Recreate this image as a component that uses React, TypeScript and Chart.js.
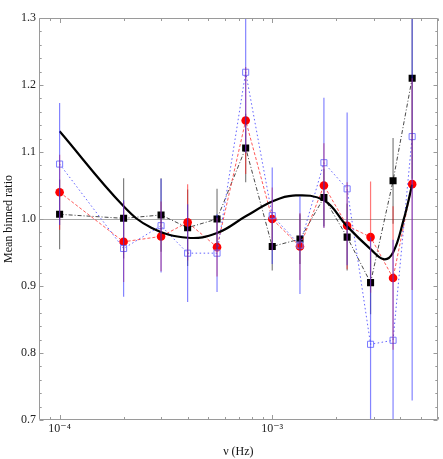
import React, { useEffect, useRef } from 'react';
import { Chart, registerables } from 'chart.js';

Chart.register(...registerables);

// ---- data ----
const freq = [1e-4, 2e-4, 3e-4, 4e-4, 5.5e-4, 7.5e-4, 1e-3, 1.35e-3, 1.75e-3, 2.25e-3, 2.9e-3, 3.7e-3, 4.55e-3];

const blackVals = [1.007, 1.001, 1.006, 0.987, 1.0, 1.106, 0.959, 0.97, 1.032, 0.973, 0.905, 1.057, 1.21];
const blackErrs = [0.052, 0.06, 0.055, 0.057, 0.045, 0.051, 0.036, 0.037, 0.043, 0.05, 0.047, 0.064, 0.15];

const redVals = [1.04, 0.966, 0.974, 0.995, 0.958, 1.147, 1.0, 0.959, 1.05, 0.99, 0.973, 0.912, 1.052];
const redErrs = [0.056, 0.06, 0.052, 0.057, 0.044, 0.08, 0.047, 0.05, 0.063, 0.065, 0.083, 0.107, 0.158];

const blueVals = [1.082, 0.956, 0.99, 0.949, 0.949, 1.219, 1.005, 0.961, 1.084, 1.045, 0.813, 0.819, 1.123];
const blueErrs = [0.091, 0.072, 0.07, 0.073, 0.058, 0.12, 0.072, 0.073, 0.097, 0.114, 0.16, 0.15, 0.394];

const fitFreq = [1e-4, 2e-4, 2.7e-4, 4e-4, 5.5e-4, 7.5e-4, 1e-3, 1.25e-3, 1.75e-3, 2.25e-3, 2.9e-3, 3.34e-3, 3.7e-3, 4.15e-3, 4.55e-3];
const fitVals = [1.131, 1.019, 0.987, 0.972, 0.979, 1.004, 1.026, 1.035, 1.028, 0.989, 0.955, 0.94, 0.95, 0.999, 1.051];

const xTickValues = [9e-5, 1e-4, 2e-4, 3e-4, 4e-4, 5e-4, 6e-4, 7e-4, 8e-4, 9e-4, 1e-3, 2e-3, 3e-3, 4e-3, 5e-3, 6e-3];
const xTickLabels = ['', '10⁻⁴', '', '', '', '', '', '', '', '', '10⁻³', '', '', '', '', ''];

const xMin = 8e-5;
const xMax = 6e-3;
const yMin = 0.7;
const yMax = 1.3;
const yStep = 0.02;

const FONT = "'Liberation Serif', 'DejaVu Serif', serif";

export default function App() {
  const ref = useRef<HTMLCanvasElement>(null);

  useEffect(() => {
    document.body.style.margin = '0';
    const canvas = ref.current;
    if (!canvas) return;

    const pts = (vals: number[]) => freq.map((f, i) => ({ x: f, y: vals[i] }));
    const errPts = (vals: number[], errs: number[]) => {
      const out: any[] = [];
      freq.forEach((f, i) => {
        out.push({ x: f, y: vals[i] - errs[i] }, { x: f, y: vals[i] + errs[i] }, { x: f, y: null });
      });
      return out;
    };

    const framePlugin = {
      id: 'frameTicks',
      afterDraw(chart: any) {
        const { ctx, chartArea: a, scales } = chart;
        const L = Math.round(a.left) + 0.5;
        const R = Math.round(a.right) - 0.5;
        const T = Math.round(a.top) + 0.5;
        const B = Math.round(a.bottom) - 0.5;
        ctx.save();
        ctx.strokeStyle = '#9a9a9a';
        ctx.lineWidth = 1;
        ctx.beginPath();
        ctx.rect(L, T, R - L, B - T);
        ctx.stroke();
        ctx.beginPath();
        scales.x.ticks.forEach((t: any) => {
          const px = Math.round(scales.x.getPixelForValue(t.value)) + 0.5;
          const len = t.label ? 4.5 : 2.5;
          ctx.moveTo(px, B);
          ctx.lineTo(px, B - len);
          ctx.moveTo(px, T);
          ctx.lineTo(px, T + len);
        });
        scales.y.ticks.forEach((t: any) => {
          const py = Math.round(scales.y.getPixelForValue(t.value)) + 0.5;
          const len = t.label ? 4 : 2.2;
          ctx.moveTo(L, py);
          ctx.lineTo(L + len, py);
          ctx.moveTo(R, py);
          ctx.lineTo(R - len, py);
        });
        ctx.stroke();
        ctx.restore();
      },
    };

    const chart = new Chart(canvas, {
      type: 'line',
      data: {
        datasets: [
          {
            data: errPts(blueVals, blueErrs),
            borderColor: 'rgba(50,50,255,0.6)',
            borderWidth: 1.2,
            pointRadius: 0,
            spanGaps: false,
            fill: false,
          },
          {
            data: errPts(redVals, redErrs),
            borderColor: 'rgba(255,30,30,0.6)',
            borderWidth: 1.2,
            pointRadius: 0,
            spanGaps: false,
            fill: false,
          },
          {
            data: errPts(blackVals, blackErrs),
            borderColor: 'rgba(0,0,0,0.5)',
            borderWidth: 1.2,
            pointRadius: 0,
            spanGaps: false,
            fill: false,
          },
          {
            data: fitFreq.map((f, i) => ({ x: f, y: fitVals[i] })),
            borderColor: '#000',
            borderWidth: 2.2,
            pointRadius: 0,
            tension: 0.4,
            fill: false,
          },
          {
            data: pts(blueVals),
            borderColor: 'rgba(70,70,255,0.85)',
            borderWidth: 1,
            borderDash: [1.5, 2.5],
            pointStyle: 'rect',
            pointRadius: 4.3,
            pointBorderWidth: 1,
            pointBorderColor: '#7a7aff',
            pointBackgroundColor: 'rgba(255,255,255,0)',
            fill: false,
          },
          {
            data: pts(redVals),
            borderColor: 'rgba(255,60,60,0.85)',
            borderWidth: 1,
            borderDash: [3, 2],
            pointStyle: 'circle',
            pointRadius: 4.3,
            pointBorderWidth: 0,
            pointBackgroundColor: '#ff0000',
            fill: false,
          },
          {
            data: pts(blackVals),
            borderColor: 'rgba(40,40,40,0.85)',
            borderWidth: 1,
            borderDash: [4, 2, 1, 2],
            pointStyle: 'rect',
            pointRadius: 5,
            pointBorderWidth: 0,
            pointBackgroundColor: '#000',
            fill: false,
          },
        ] as any,
      },
      options: {
        animation: false,
        responsive: false,
        devicePixelRatio: 1,
        layout: { padding: { top: 18, right: 2, left: 0, bottom: 0 } },
        plugins: { legend: { display: false }, tooltip: { enabled: false } },
        scales: {
          x: {
            type: 'logarithmic',
            min: xMin,
            max: xMax,
            afterBuildTicks: (scale: any) => {
              scale.ticks = xTickValues.map((v) => ({ value: v }));
            },
            afterFit: (scale: any) => {
              scale.height = 39;
            },
            grid: { display: false, drawTicks: false },
            border: { display: false },
            ticks: {
              autoSkip: false,
              maxRotation: 0,
              minRotation: 0,
              padding: 2,
              color: '#222',
              font: { family: FONT, size: 12 },
              callback: (_v: any, i: number) => xTickLabels[i],
            },
            title: {
              display: true,
              text: 'ν (Hz)',
              color: '#111',
              font: { family: FONT, size: 12 },
              padding: { top: 0, bottom: 0 },
            },
          },
          y: {
            type: 'linear',
            min: yMin,
            max: yMax,
            afterFit: (scale: any) => {
              scale.width = 39;
            },
            grid: {
              drawOnChartArea: true,
              drawTicks: false,
              lineWidth: 1,
              color: (c: any) => (c.tick && Math.abs(c.tick.value - 1) < 1e-9 ? '#a8a8a8' : 'rgba(0,0,0,0)'),
            },
            border: { display: false },
            ticks: {
              stepSize: yStep,
              autoSkip: false,
              padding: 3,
              color: '#222',
              font: { family: FONT, size: 12 },
              callback: (v: any) => {
                const t = Math.round(v * 10);
                return Math.abs(v * 10 - t) < 1e-6 ? (t / 10).toFixed(1) : '';
              },
            },
            title: {
              display: true,
              text: 'Mean binned ratio',
              color: '#111',
              font: { family: FONT, size: 12 },
              padding: { top: 2, bottom: 0 },
            },
          },
        },
      } as any,
      plugins: [framePlugin],
    });

    return () => chart.destroy();
  }, []);

  return (
    <div style={{ width: 443, height: 459 }}>
      <canvas ref={ref} width={443} height={459} style={{ display: 'block' }} />
    </div>
  );
}
